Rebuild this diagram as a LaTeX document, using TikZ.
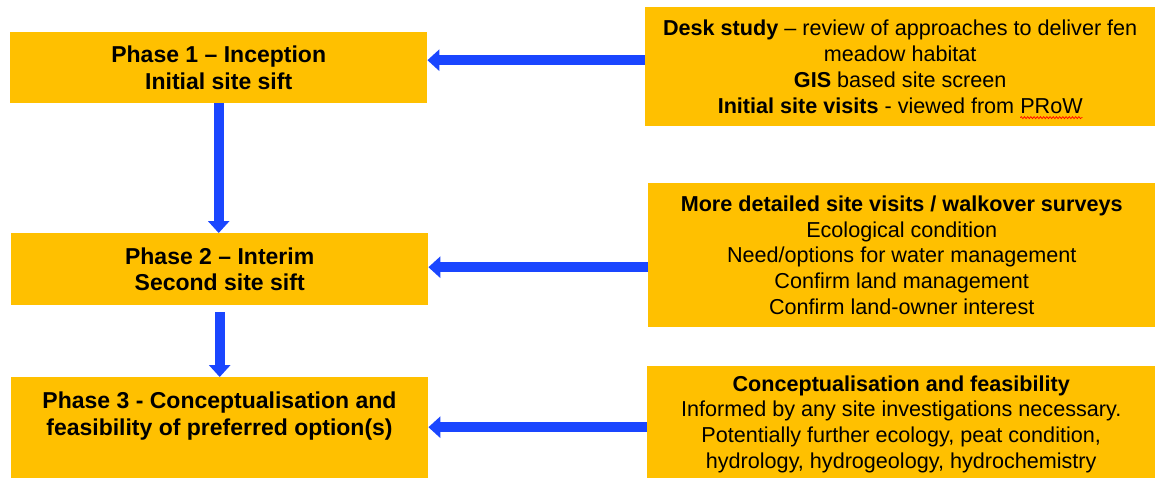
\documentclass[tikz,border=0pt]{standalone}
\usepackage{fontspec}
\setmainfont{Liberation Sans}
\usetikzlibrary{arrows.meta,decorations.pathmorphing}
\definecolor{boxorange}{HTML}{FFC000}
\definecolor{arrowblue}{HTML}{1A46FF}
\newsavebox{\wavebox}
\newcommand{\redwave}[1]{\sbox{\wavebox}{#1}\usebox{\wavebox}\tikz[overlay,x=1pt,y=1pt]\draw[red, line width=0.7pt, decorate, decoration={snake, amplitude=1pt, segment length=3.2pt}] (-\wd\wavebox,-4.5) -- (0,-4.5);}
\begin{document}
\begin{tikzpicture}[x=1pt,y=-1pt,
  phasebox/.style={fill=boxorange, draw=none, anchor=north west, align=center, inner sep=0pt,
    font=\fontsize{23}{26.5}\selectfont\bfseries},
  phasetext/.style={align=center, inner sep=0pt, font=\fontsize{23}{26.5}\selectfont\bfseries},
  infobox/.style={fill=boxorange, draw=none, anchor=north west, align=center, inner sep=0pt,
    font=\fontsize{21.6}{25.8}\selectfont},
  blockarrow/.style={draw=arrowblue, line width=10pt, -{Triangle[length=12pt,width=21pt]}}]
\clip (0,0) rectangle (1155,477);
\fill[white] (0,0) rectangle (1155,477);
% left column
\node[phasebox, minimum width=417pt, minimum height=71pt] (p1) at (10,32)
  {Phase 1 – Inception\\Initial site sift};
\node[phasebox, minimum width=417pt, minimum height=72pt] (p2) at (11,233)
  {Phase 2 – Interim\\Second site sift};
\node[phasebox, minimum width=417pt, minimum height=130pt] (p3) at (11,377) {};
\node[phasetext] (p3t) at (219.5,416)
  {Phase 3 - Conceptualisation and\\feasibility of preferred option(s)};
% right column
\node[infobox, minimum width=510pt, minimum height=119pt] (r1) at (645,7)
  {\textbf{Desk study} – review of approaches to deliver fen\\meadow habitat\\\textbf{GIS} based site screen\\\textbf{Initial site visits} - viewed from \redwave{PRoW}};
\node[infobox, minimum width=507pt, minimum height=144pt] (r2) at (648,183)
  {\textbf{More detailed site visits / walkover surveys}\\Ecological condition\\Need/options for water management\\Confirm land management\\Confirm land-owner interest};
\node[infobox, minimum width=508pt, minimum height=116pt] (r3) at (647,366)
  {\textbf{Conceptualisation and feasibility}\\Informed by any site investigations necessary.\\Potentially further ecology, peat condition,\\hydrology, hydrogeology, hydrochemistry};
% arrows
\draw[blockarrow] ([yshift=6.5pt]r1.west) -- ([yshift=6.5pt]r1.west -| p1.east);
\draw[blockarrow] ([yshift=-12pt]r2.west) -- ([yshift=-12pt]r2.west -| p2.east);
\draw[blockarrow] ([yshift=-3pt]r3.west) -- ([yshift=-3pt]r3.west -| p3.east);
\draw[blockarrow] (p1.south) -- (p1.south |- p2.north);
\draw[blockarrow] ([yshift=-7pt]p2.south) -- (p2.south |- p3.north);
\end{tikzpicture}
\end{document}
